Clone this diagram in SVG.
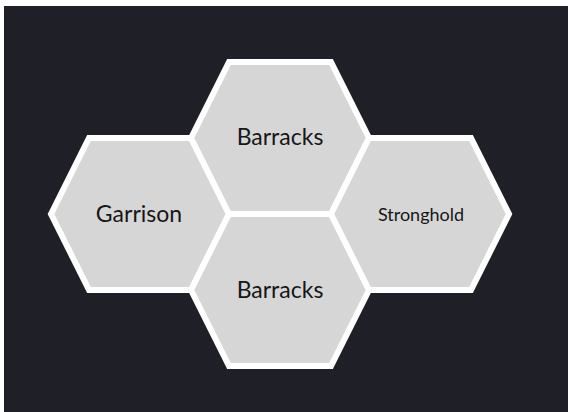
<svg xmlns="http://www.w3.org/2000/svg" width="568" height="412" viewBox="0 0 568 412">
  <style>
    .hex { fill: #d6d6d6; stroke: #ffffff; stroke-width: 6; stroke-linejoin: miter; }
    .lbl { font-family: Lato, "Liberation Sans", sans-serif; fill: #161616; text-anchor: middle; }
    .big { font-size: 23px; }
    .small { font-size: 18px; }
  </style>
  <defs>
    <path id="hexShape" d="M -89,0 L -51,-76 L 51,-76 L 89,0 L 51,76 L -51,76 Z"/>
  </defs>
  <rect x="0" y="0" width="568" height="412" fill="#ffffff"/>
  <rect x="4" y="6" width="564" height="406" fill="#1f1f27"/>
  <g id="connectors"></g>
  <g id="node-garrison">
    <use href="#hexShape" class="hex" transform="translate(140,214)"/>
    <text class="lbl big" x="139" y="222">Garrison</text>
  </g>
  <g id="node-barracks-top">
    <use href="#hexShape" class="hex" transform="translate(280,138)"/>
    <text class="lbl big" x="280" y="145">Barracks</text>
  </g>
  <g id="node-barracks-bottom">
    <use href="#hexShape" class="hex" transform="translate(280,290)"/>
    <text class="lbl big" x="280" y="298">Barracks</text>
  </g>
  <g id="node-stronghold">
    <use href="#hexShape" class="hex" transform="translate(420,214)"/>
    <text class="lbl small" x="421" y="221">Stronghold</text>
  </g>
</svg>
